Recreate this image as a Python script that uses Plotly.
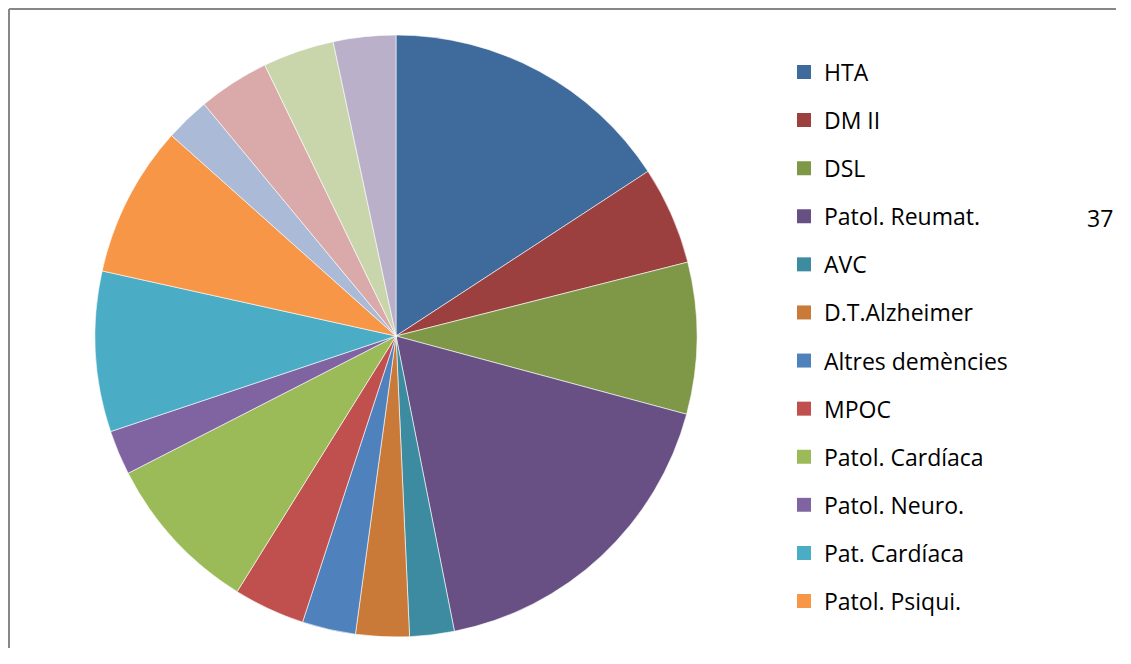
import plotly.graph_objects as go

# Slices in clockwise order from 12 o'clock
labels = [
    "HTA", "DM II", "DSL", "Patol. Reumat.", "AVC", "D.T.Alzheimer",
    "Altres demències", "MPOC", "Patol. Cardíaca", "Patol. Neuro.",
    "Pat. Cardíaca", "Patol. Psiqui.",
    "Altres 1", "Altres 2", "Altres 3", "Altres 4",
]
values = [33, 11, 17, 37, 5, 6, 6, 8, 18, 5, 18, 17, 5, 8, 8, 7]
colors = [
    "#3F6A9C", "#9B403E", "#7E9848", "#685085", "#3C8BA0", "#CA7A38",
    "#4F81BD", "#C0504D", "#9BBB59", "#8064A2", "#4BACC6", "#F79646",
    "#AABAD7", "#D9AAA9", "#C9D6AC", "#BAB0C9",
]
n_legend = 12  # Excel legend is clipped after 12 entries

# page body adds an 8px margin; keep the figure small enough to avoid scrollbars
W, H = 1108, 640
FONT = dict(family="Open Sans", size=23, color="#000000")

fig = go.Figure()

fig.add_trace(go.Pie(
    labels=labels,
    values=values,
    sort=False,
    direction="clockwise",
    rotation=0,
    marker=dict(colors=colors, line=dict(color="white", width=0.6)),
    textinfo="none",
    showlegend=False,
    domain=dict(x=[87 / W, 689 / W], y=[(H - 629) / H, (H - 27) / H]),
))

# legend entries (square swatches), one group each so the gap can be set
for lab, col in zip(labels[:n_legend], colors[:n_legend]):
    fig.add_trace(go.Scatter(
        x=[None], y=[None], mode="markers", name=lab, legendgroup=lab,
        marker=dict(symbol="square", size=14, color=col),
    ))

# stray data label from the original sheet
fig.add_annotation(
    text=str(values[3]), x=1092 / W, y=(H - 210) / H,
    xref="paper", yref="paper", xanchor="center", yanchor="middle",
    showarrow=False, font=FONT,
)

# chart area border: only the top and left edges are inside the window
border = dict(color="#878787", width=2)
fig.add_shape(type="line", xref="paper", yref="paper",
              x0=1 / W, x1=1.2, y0=(H - 1) / H, y1=(H - 1) / H, line=border)
fig.add_shape(type="line", xref="paper", yref="paper",
              x0=1 / W, x1=1 / W, y0=-0.2, y1=(H - 1) / H, line=border)

fig.update_layout(
    width=W, height=H,
    margin=dict(l=0, r=0, t=0, b=0),
    paper_bgcolor="white",
    plot_bgcolor="white",
    xaxis=dict(visible=False),
    yaxis=dict(visible=False),
    font=FONT,
    legend=dict(
        x=776 / W, xanchor="left",
        y=(H - 42.5) / H, yanchor="top",
        tracegroupgap=15.2,
        bgcolor="rgba(0,0,0,0)",
        borderwidth=0,
    ),
)

fig.write_html("out.html")
